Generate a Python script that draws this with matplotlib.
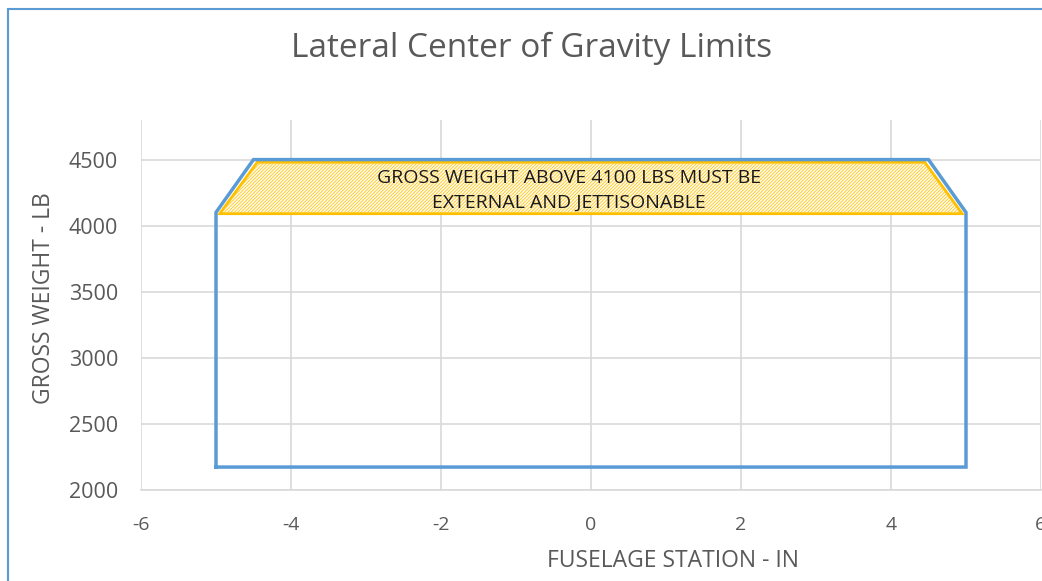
import matplotlib
matplotlib.use("Agg")
import matplotlib.pyplot as plt
from matplotlib.patches import Polygon, Rectangle

# Data
envelope_x = [-5, -5, -4.5, 4.5, 5, 5, -5]
envelope_y = [2170, 4100, 4500, 4500, 4100, 2170, 2170]
zone_x = [-4.95, -4.45, 4.45, 4.95]
zone_y = [4090, 4480, 4480, 4090]
zone_label = "GROSS WEIGHT ABOVE 4100 LBS MUST BE\nEXTERNAL AND JETTISONABLE"
x_ticks = [-6, -4, -2, 0, 2, 4, 6]
y_ticks = [2000, 2500, 3000, 3500, 4000, 4500]

plt.rcParams['font.family'] = ['Open Sans', 'DejaVu Sans']
plt.rcParams['hatch.color'] = '#FFC000'
plt.rcParams['hatch.linewidth'] = 0.5
W, H = 1042, 581
fig = plt.figure(figsize=(W/100, H/100), dpi=100)
fig.patch.set_facecolor('white')

# chart border
fig.patches.append(Rectangle((8/W, -0.1), 1.2, 1 - 9/H + 0.1, transform=fig.transFigure,
                             fill=False, edgecolor='#5B9BD5', linewidth=1.5))

left, right, top, bottom = 141, 1041, 120, 489.5
ax = fig.add_axes([left/W, 1 - bottom/H, (right-left)/W, (bottom-top)/H])
ax.set_xlim(-6, 6)
ax.set_ylim(2000, 4800)
ax.set_xticks(x_ticks)
ax.set_yticks(y_ticks)
ax.set_xticklabels([str(v) for v in x_ticks])
ax.set_yticklabels([str(v) for v in y_ticks])
ax.tick_params(axis='both', length=0, colors='#595959')
ax.tick_params(axis='y', labelsize=15.5, pad=16.5)
ax.tick_params(axis='x', labelsize=14, pad=19)
ax.grid(True, color='#D9D9D9', linewidth=1.2)
ax.set_axisbelow(True)
for s in ['top', 'right', 'left']:
    ax.spines[s].set_visible(False)
ax.spines['bottom'].set_color('#D9D9D9')
ax.spines['bottom'].set_linewidth(1.2)

# hatched zone
zone = Polygon(list(zip(zone_x, zone_y)), closed=True, facecolor='#FFFAEA',
               edgecolor='#FFC000', linewidth=2, hatch='/' * 10, zorder=2)
ax.add_patch(zone)

ax.plot(envelope_x, envelope_y, color='#5B9BD5', linewidth=2.5, zorder=3,
        solid_joinstyle='miter')

ax.text(-0.29, 4268, zone_label, ha='center', va='center', fontsize=14,
        color='#1A1A1A', linespacing=1.5, zorder=4)

fig.text(532/W, 1 - 57/H, "Lateral Center of Gravity Limits", ha='center', va='baseline',
         fontsize=24, color='#595959')
fig.text(44/W, 1 - 298/H, "GROSS WEIGHT - LB", ha='center', va='center', rotation=90,
         fontsize=16.5, color='#595959')
fig.text(673/W, 1 - 567/H, "FUSELAGE STATION - IN", ha='center', va='baseline',
         fontsize=16.5, color='#595959')

fig.savefig("out.png", dpi=100)
